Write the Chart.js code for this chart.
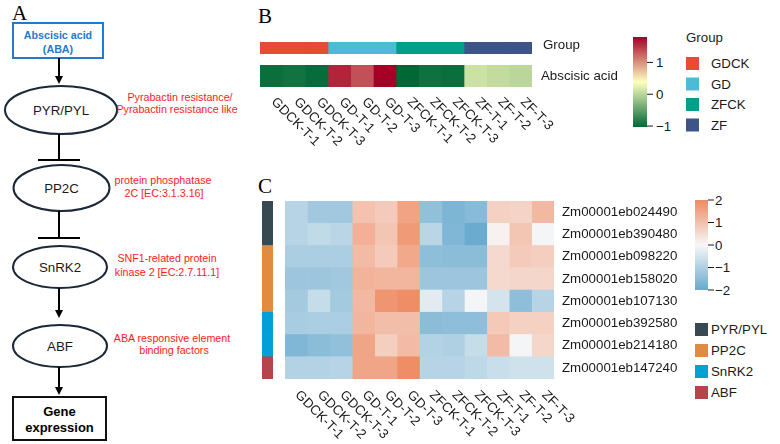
<!DOCTYPE html>
<html>
<head>
<meta charset="utf-8">
<script src="https://cdn.jsdelivr.net/npm/chart.js@4.4.1/dist/chart.umd.min.js"></script>
<style>
  body { margin: 0; background: #fff; }
  #wrap { position: relative; width: 780px; height: 444px; overflow: hidden; }
  #wrap canvas, #wrap svg { position: absolute; }
</style>
</head>
<body>
<div id="wrap">
<svg id="art" width="780" height="444" style="left:0;top:0" font-family="'Liberation Sans', Arial, sans-serif">
  <defs>
    <linearGradient id="gAba" x1="0" y1="1" x2="0" y2="0">
      <stop offset="0" stop-color="#006837"/><stop offset="0.5" stop-color="#FFFFBF"/><stop offset="1" stop-color="#A50026"/>
    </linearGradient>
    <linearGradient id="gExpr" x1="0" y1="1" x2="0" y2="0">
      <stop offset="0" stop-color="#67A9CF"/><stop offset="0.5" stop-color="#F7F7F7"/><stop offset="1" stop-color="#EF8A62"/>
    </linearGradient>
  </defs>
  <!-- panel letters -->
  <text x="12" y="20" font-family="'Liberation Serif', 'Times New Roman', serif" font-size="21">A</text>
  <text x="258" y="23" font-family="'Liberation Serif', 'Times New Roman', serif" font-size="21">B</text>
  <text x="258" y="193" font-family="'Liberation Serif', 'Times New Roman', serif" font-size="21">C</text>

  <!-- panel A: ABA signalling -->
  <g stroke-width="2" fill="none">
    <rect x="13" y="23" width="90" height="35" stroke="#2479CC" fill="#fff"/>
    <line x1="59" y1="58" x2="59" y2="77" stroke="#000"/>
    <ellipse cx="61" cy="110" rx="56" ry="24" stroke="#1B2838"/>
    <line x1="59" y1="134" x2="59" y2="160" stroke="#000"/>
    <line x1="38" y1="160" x2="80" y2="160" stroke="#000"/>
    <ellipse cx="61.5" cy="188" rx="48" ry="23" stroke="#1B2838"/>
    <line x1="59" y1="211" x2="59" y2="238" stroke="#000"/>
    <line x1="38" y1="238" x2="80" y2="238" stroke="#000"/>
    <ellipse cx="60" cy="267" rx="47" ry="21" stroke="#1B2838"/>
    <line x1="59" y1="288" x2="59" y2="311" stroke="#000"/>
    <ellipse cx="60" cy="346" rx="47" ry="21" stroke="#1B2838"/>
    <line x1="59" y1="367" x2="59" y2="388" stroke="#000"/>
    <rect x="13" y="397" width="93" height="43" stroke="#111"/>
  </g>
  <g fill="#000">
    <polygon points="55,76 63,76 59,84"/>
    <polygon points="55,310 63,310 59,318"/>
    <polygon points="55,387 63,387 59,395"/>
  </g>
  <g dominant-baseline="central" text-anchor="middle">
    <text x="58" y="35" font-size="10.7" font-weight="bold" fill="#2479CC">Abscisic acid</text>
    <text x="58" y="49" font-size="10.7" font-weight="bold" fill="#2479CC">(ABA)</text>
    <text x="61" y="110" font-size="13.3" fill="#1a1a1a">PYR/PYL</text>
    <text x="61.5" y="188" font-size="13.3" fill="#1a1a1a">PP2C</text>
    <text x="60" y="267" font-size="13.3" fill="#1a1a1a">SnRK2</text>
    <text x="60" y="346" font-size="13.3" fill="#1a1a1a">ABF</text>
    <text x="59.5" y="411" font-size="13" font-weight="bold" fill="#000">Gene</text>
    <text x="59.5" y="427" font-size="13" font-weight="bold" fill="#000">expression</text>
    <g font-size="10.7" fill="#FF1A1A">
      <text x="180" y="97">Pyrabactin resistance/</text>
      <text x="177" y="109">Pyrabactin resistance like</text>
      <text x="163" y="180">protein phosphatase</text>
      <text x="164" y="193">2C [EC:3.1.3.16]</text>
      <text x="167" y="258">SNF1-related protein</text>
      <text x="167" y="272">kinase 2 [EC:2.7.11.1]</text>
      <text x="172" y="338">ABA responsive element</text>
      <text x="174" y="350">binding factors</text>
    </g>
  </g>
  <g id="legends" dominant-baseline="central" font-size="13.3" fill="#1a1a1a"></g>
</svg>
<canvas id="groupChart" width="370" height="60" style="left:255px;top:18px"></canvas>
<canvas id="abaChart" width="370" height="110" style="left:255px;top:40px"></canvas>
<canvas id="annoChart" width="20" height="186" style="left:258px;top:197px"></canvas>
<canvas id="exprChart" width="530" height="274" style="left:250px;top:170px"></canvas>
</div>
<script>
// samples and groups
const samples = ['GDCK-T-1', 'GDCK-T-2', 'GDCK-T-3', 'GD-T-1', 'GD-T-2', 'GD-T-3',
                 'ZFCK-T-1', 'ZFCK-T-2', 'ZFCK-T-3', 'ZF-T-1', 'ZF-T-2', 'ZF-T-3'];
const sampleGroup = ['GDCK', 'GDCK', 'GDCK', 'GD', 'GD', 'GD', 'ZFCK', 'ZFCK', 'ZFCK', 'ZF', 'ZF', 'ZF'];
const groups = ['GDCK', 'GD', 'ZFCK', 'ZF'];
const groupColors = ['#E64B35', '#4DBBD5', '#00A087', '#3C5488'];

// panel B: abscisic acid (row scaled)
const abscisicAcid = [-0.97, -0.93, -0.99, 1.6, 1.35, 1.8, -1.03, -0.95, -0.97, 0.1, 0.05, 0.0];
const abaRange = [-1.03, 1.8];
const abaTicks = [-1, 0, 1];

// panel C: genes (row scaled expression)
const genes = ['Zm00001eb024490', 'Zm00001eb390480', 'Zm00001eb098220', 'Zm00001eb158020',
               'Zm00001eb107130', 'Zm00001eb392580', 'Zm00001eb214180', 'Zm00001eb147240'];
const geneFamily = ['PYR/PYL', 'PYR/PYL', 'PP2C', 'PP2C', 'PP2C', 'SnRK2', 'SnRK2', 'ABF'];
const families = ['PYR/PYL', 'PP2C', 'SnRK2', 'ABF'];
const familyColors = ['#374A52', '#E08B40', '#03A0D6', '#B5454A'];
const expression = [
  [-0.9, -1.2, -1.2, 0.95, 0.8, 1.55, -1.4, -1.7, -1.55, 0.7, 0.65, 1.15],
  [-0.9, -0.75, -0.85, 1.3, 0.9, 1.7, -0.85, -1.65, -1.95, 0.1, 0.9, -0.05],
  [-1.05, -1.05, -1.05, 1.1, 0.8, 1.45, -1.45, -1.5, -1.5, 0.55, 0.8, 0.75],
  [-1.25, -1.25, -1.2, 1.25, 1.2, 1.2, -1.25, -1.25, -1.25, 0.55, 0.6, 0.6],
  [-1.15, -0.7, -1.15, 1.15, 1.8, 1.95, -0.3, -0.9, -0.05, -0.5, -1.45, -0.9],
  [-1.1, -1.05, -1.05, 1.2, 1.05, 1.05, -1.5, -1.45, -1.45, 0.85, 0.7, 0.7],
  [-1.65, -1.5, -1.4, 1.5, 0.75, 1.1, -0.95, -1.0, -0.7, 1.1, -0.05, 0.6],
  [-0.95, -0.95, -0.9, 1.5, 1.5, 1.95, -0.9, -0.9, -0.8, -0.65, -0.55, -0.55]
];
const exprRange = [-2, 2];
const exprTicks = [-2, -1, 0, 1, 2];

const FONT = "'Liberation Sans', Arial, sans-serif";

function hex2rgb(h) { return [1, 3, 5].map(i => parseInt(h.substr(i, 2), 16)); }
function ramp(stops, range) {
  const cs = stops.map(hex2rgb);
  return v => {
    let t = (v - range[0]) / (range[1] - range[0]);
    t = Math.min(1, Math.max(0, t)) * (cs.length - 1);
    const k = Math.min(cs.length - 2, Math.floor(t)), f = t - k;
    const c = cs[k].map((a, n) => Math.round(a + (cs[k + 1][n] - a) * f));
    return 'rgb(' + c.join(',') + ')';
  };
}
const abaColor = ramp(['#006837', '#FFFFBF', '#A50026'], abaRange);
const exprColor = ramp(['#67A9CF', '#F7F7F7', '#EF8A62'], exprRange);

// rotated column labels under a heatmap
const colLabels = {
  id: 'colLabels',
  afterDraw(chart, args, opts) {
    if (!opts || !opts.labels) return;
    const ctx = chart.ctx, xs = chart.scales.x, bottom = chart.chartArea.bottom;
    ctx.save();
    ctx.font = '13.3px ' + FONT;
    ctx.fillStyle = '#1a1a1a';
    ctx.textAlign = 'left';
    ctx.textBaseline = 'middle';
    opts.labels.forEach((t, i) => {
      ctx.save();
      ctx.translate(xs.getPixelForValue(i + 0.5) + opts.dx, bottom + opts.dy);
      ctx.rotate(Math.PI / 4);
      ctx.fillText(t, 0, 0);
      ctx.restore();
    });
    ctx.restore();
  }
};

function heatmap(id, rows, nCols, colorAt, cfg) {
  const yAxis = {
    stacked: true, position: 'right', display: cfg.showY,
    grid: { display: false, drawTicks: false }, border: { display: false },
    ticks: { padding: cfg.labelPad || 0, labelOffset: cfg.labelOffset || 0, color: '#1a1a1a', font: { family: FONT, size: 13.3 } }
  };
  if (cfg.showY) yAxis.afterFit = s => { s.width = cfg.axisWidth; };
  return new Chart(document.getElementById(id), {
    type: 'bar',
    data: {
      labels: rows,
      datasets: Array.from({ length: nCols }, (_, j) => ({
        label: 'col' + j,
        data: rows.map(() => 1),
        backgroundColor: rows.map((r, i) => colorAt(i, j)),
        borderWidth: 0,
        barPercentage: 1,
        categoryPercentage: 1
      }))
    },
    options: {
      indexAxis: 'y',
      responsive: false,
      animation: false,
      layout: { padding: cfg.pad },
      plugins: { legend: { display: false }, tooltip: { enabled: false }, colLabels: cfg.colLabels || false },
      scales: {
        x: { stacked: true, min: 0, max: nCols, display: false },
        y: yAxis
      }
    },
    plugins: [colLabels]
  });
}

heatmap('groupChart', ['Group'], samples.length,
  (i, j) => groupColors[groups.indexOf(sampleGroup[j])],
  { pad: { left: 5, top: 24, right: 0, bottom: 24 }, showY: true, axisWidth: 93, labelPad: 11, labelOffset: -3 });

heatmap('abaChart', ['Abscisic acid'], samples.length,
  (i, j) => abaColor(abscisicAcid[j]),
  { pad: { left: 5, top: 25, right: 0, bottom: 63 }, showY: true, axisWidth: 93, labelPad: 9,
    colLabels: { labels: samples, dx: 2, dy: 13 } });

heatmap('annoChart', genes, 1,
  (i) => familyColors[families.indexOf(geneFamily[i])],
  { pad: { left: 4, top: 4, right: 5, bottom: 4 }, showY: false });

heatmap('exprChart', genes, samples.length,
  (i, j) => exprColor(expression[i][j]),
  { pad: { left: 35, top: 31, right: 0, bottom: 65 }, showY: true, axisWidth: 226, labelPad: 8,
    colLabels: { labels: samples, dx: 1, dy: 14 } });

// legends and colour bars
const NS = 'http://www.w3.org/2000/svg';
const lg = document.getElementById('legends');
function el(tag, attrs, text) {
  const e = document.createElementNS(NS, tag);
  for (const k in attrs) e.setAttribute(k, attrs[k]);
  if (text !== undefined) e.textContent = text;
  lg.appendChild(e);
  return e;
}
const fmt = v => v < 0 ? '\u2212' + Math.abs(v) : String(v);

function colorBar(x, y, w, h, grad, range, ticks, labelX) {
  el('rect', { x: x, y: y, width: w, height: h, fill: 'url(#' + grad + ')' });
  ticks.forEach(v => {
    const ty = y + (range[1] - v) / (range[1] - range[0]) * h;
    el('line', { x1: x + w, x2: x + w + 6, y1: ty, y2: ty, stroke: '#1a1a1a', 'stroke-width': 1 });
    el('text', { x: labelX, y: ty }, fmt(v));
  });
}
colorBar(633, 37, 14, 90, 'gAba', abaRange, abaTicks, 656);
colorBar(695, 200, 13, 90, 'gExpr', exprRange, exprTicks, 715);

el('text', { x: 686, y: 37 }, 'Group');
groups.forEach((g, k) => {
  const y = 57 + k * 20.5;
  el('rect', { x: 686, y: y, width: 13, height: 13, fill: groupColors[k] });
  el('text', { x: 711, y: y + 6.5 }, g);
});
families.forEach((f, k) => {
  const y = 323 + k * 21;
  el('rect', { x: 695, y: y, width: 13, height: 13, fill: familyColors[k] });
  el('text', { x: 711, y: y + 6.5 }, f);
});
</script>
</body>
</html>
